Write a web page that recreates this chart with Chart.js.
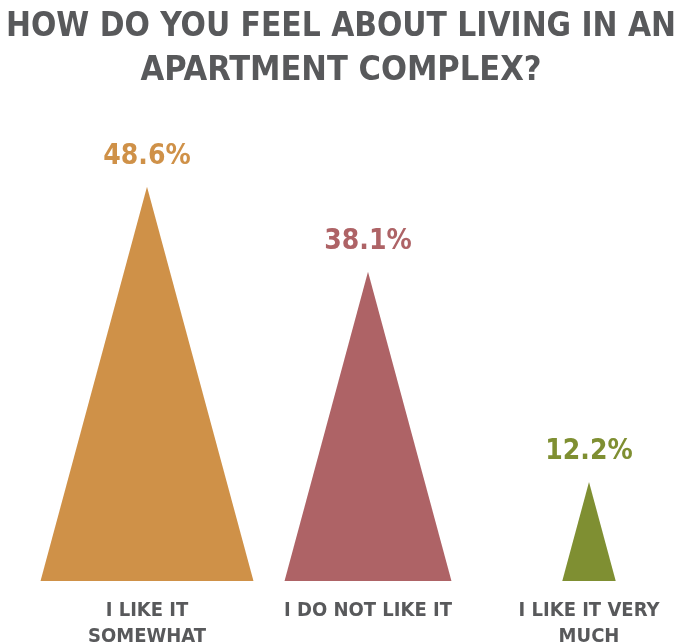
<!DOCTYPE html>
<html>
<head>
<meta charset="utf-8">
<script src="https://cdn.jsdelivr.net/npm/chart.js@4.4.1/dist/chart.umd.min.js"></script>
<style>
    html, body { margin: 0; padding: 0; background: #fff; overflow: hidden; }
    #wrap { width: 682px; height: 643px; overflow: hidden; }
</style>
</head>
<body>
<div id="wrap"><canvas id="feelChart" width="682" height="659"></canvas></div>
<script>
const categories = [['I LIKE IT', 'SOMEWHAT'], 'I DO NOT LIKE IT', ['I LIKE IT VERY', 'MUCH']];
const shares = [48.6, 38.1, 12.2];
const colors = ['#cf9148', '#ae6366', '#7f8f32'];

const FONT = "'DejaVu Sans Condensed', 'DejaVu Sans', sans-serif";
const GREY = '#58595b';

// triangles instead of rectangles: base width follows the bar height
const trianglePlugin = {
    id: 'triangles',
    beforeDatasetDraw(chart, args) {
        const ctx = chart.ctx;
        args.meta.data.forEach(function(bar, i) {
            const half = (bar.base - bar.y) * 0.27;
            ctx.save();
            ctx.fillStyle = colors[i];
            ctx.beginPath();
            ctx.moveTo(bar.x - half, bar.base);
            ctx.lineTo(bar.x, bar.y);
            ctx.lineTo(bar.x + half, bar.base);
            ctx.closePath();
            ctx.fill();

            ctx.font = 'bold 28px ' + FONT;
            ctx.textAlign = 'center';
            ctx.textBaseline = 'alphabetic';
            ctx.fillText(shares[i].toFixed(1) + '%', bar.x, bar.y - 23);
            ctx.restore();
        });
        return false;
    }
};

// empty side axes keep the plot inset without narrowing the title
function sideAxis(position, width) {
    return {
        position: position,
        display: true,
        min: 0,
        max: 58,
        grid: { display: false },
        border: { display: false },
        ticks: { display: false },
        afterFit(scale) { scale.width = width; }
    };
}

document.addEventListener('DOMContentLoaded', function() {
    const ctx = document.getElementById('feelChart').getContext('2d');
    new Chart(ctx, {
        type: 'bar',
        data: {
            labels: categories,
            datasets: [{
                data: shares,
                backgroundColor: colors
            }]
        },
        options: {
            responsive: false,
            animation: false,
            layout: { padding: { left: 6, right: 6, top: 0, bottom: 0 } },
            scales: {
                x: {
                    offset: false,
                    grid: { display: false },
                    border: { display: false },
                    ticks: {
                        color: GREY,
                        font: { family: FONT, size: 20, weight: 'bold', lineHeight: 1.3 },
                        padding: 9,
                        maxRotation: 0,
                        autoSkip: false
                    }
                },
                y: sideAxis('left', 141),
                yRight: sideAxis('right', 87)
            },
            plugins: {
                legend: { display: false },
                tooltip: { enabled: false },
                title: {
                    display: true,
                    text: ['HOW DO YOU FEEL ABOUT LIVING IN AN', 'APARTMENT COMPLEX?'],
                    color: GREY,
                    font: { family: FONT, size: 34, weight: 'bold', lineHeight: 1.27 },
                    padding: { top: 6, bottom: 18 }
                }
            }
        },
        plugins: [trianglePlugin]
    });
});
</script>
</body>
</html>
